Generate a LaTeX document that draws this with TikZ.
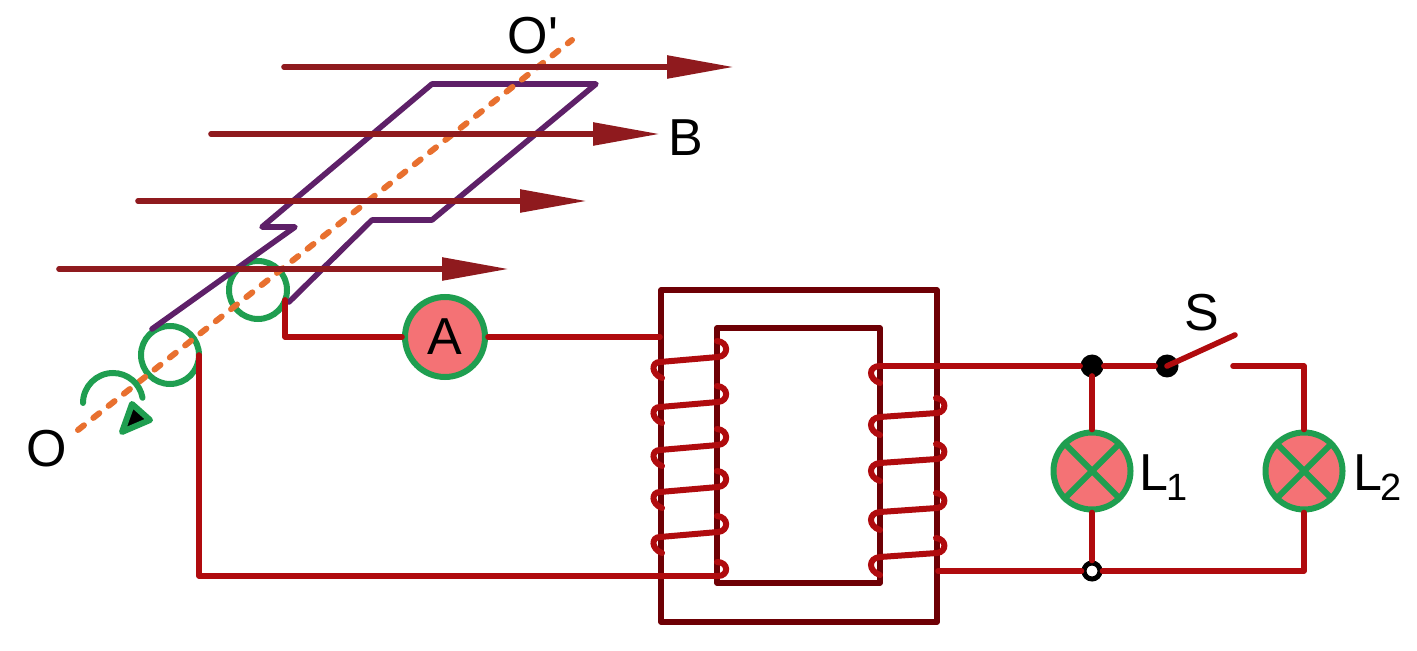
\documentclass[tikz,border=0pt]{standalone}
\usepackage{fontspec}
\setmainfont{Liberation Sans}
\usetikzlibrary{arrows.meta}
\definecolor{fieldred}{HTML}{8F1A1E}
\definecolor{coilpurple}{HTML}{5E2068}
\definecolor{axisorange}{HTML}{E8702F}
\definecolor{ringgreen}{HTML}{1F9E50}
\definecolor{wirered}{HTML}{B00B0E}
\definecolor{coredark}{HTML}{6E0005}
\definecolor{lampfill}{HTML}{F47275}
\tikzset{
  wire/.style={wirered, line width=2.8pt, line join=round, line cap=round},
  coilturn/.style={wirered, line width=3pt, line cap=round},
  core/.style={coredark, line width=2.8pt, line join=round},
  fieldline/.style={fieldred, line width=2.8pt, line cap=round, -{Triangle[length=33.5pt,width=11pt]}},
  ring/.style={circle, draw=ringgreen, line width=3pt, minimum size=29pt, inner sep=0pt, outer sep=0pt},
  lamp/.style={circle, draw=ringgreen, fill=lampfill, line width=3pt, minimum size=38.5pt, inner sep=0pt},
  lbl/.style={font=\fontsize{26}{26}\selectfont, inner sep=0pt},
  dot/.style={circle, fill=black, minimum size=11.5pt, inner sep=0pt},
  opendot/.style={circle, draw=black, fill=white, line width=2.5pt, minimum size=8pt, inner sep=0pt}
}
\newcommand{\lampsub}[1]{\kern-1pt\raisebox{-5pt}{\fontsize{19}{19}\selectfont #1}}
\begin{document}
\begin{tikzpicture}[x=0.5pt,y=-0.5pt]
\useasboundingbox (0,0) rectangle (1417,651);

% slip rings
\node[ring] (ringa) at (170,355) {};
\node[ring] (ringb) at (258,290) {};

% rotating coil
\draw[coilpurple, line width=2.8pt, line join=round, line cap=round] (152,329) -- (295,227) -- (262,227) -- (432,84) -- (596,84) -- (432,220) -- (372,220) -- (289,302);

% axis
\coordinate (axisa) at (78,430);
\coordinate (axisb) at (572,40);
\draw[axisorange, line width=3pt, line cap=round, dash pattern=on 3.8pt off 5.95pt] (axisa) -- (axisb);

% field
\coordinate (fa) at (284,67);
\coordinate (fb) at (734,67);
\coordinate (fc) at (211,134);
\coordinate (fd) at (660,134);
\coordinate (fe) at (138,201);
\coordinate (ff) at (587,201);
\coordinate (fg) at (59,269);
\coordinate (fh) at (509,269);
\draw[fieldline] (fa) -- (fb);
\draw[fieldline] (fc) -- (fd);
\draw[fieldline] (fe) -- (ff);
\draw[fieldline] (fg) -- (fh);

% rotation sense
\draw[ringgreen, line width=3pt, line cap=round] (83,403) arc (180:350:30);
\draw[ringgreen, fill=black, line width=3pt, line join=round] (122,432) -- (132,404) -- (150,420) -- cycle;

% core
\draw[core] (661,290) rectangle (937,622);
\draw[core] (717,328) rectangle (880,583);

% ammeter and lamps
\node[lamp, minimum size=40pt, lbl] (ammeter) at (445,337) {A};
\node[lamp] (lampa) at (1092,471) {};
\node[lamp] (lampb) at (1304,471) {};
\draw[ringgreen, line width=3pt] (lampa.45) -- (lampa.225);
\draw[ringgreen, line width=3pt] (lampa.135) -- (lampa.315);
\draw[ringgreen, line width=3pt] (lampb.45) -- (lampb.225);
\draw[ringgreen, line width=3pt] (lampb.135) -- (lampb.315);

% left circuit
\coordinate (primtop) at (660,337);
\coordinate (primend) at (718,576);
\draw[wire] (ringb.-20) |- (ammeter.west);
\draw[wire] (ammeter.east) -- (primtop);
\draw[wire] (ringa.east) |- (primend);

% primary
\draw[coilturn] (662,378) .. controls (651,374) and (651,362) .. (660,362) -- (718,357) .. controls (729,356) and (729,342) .. (717,341);
\draw[coilturn] (662,423) .. controls (651,419) and (651,407) .. (660,407) -- (718,402) .. controls (729,401) and (729,387) .. (717,386);
\draw[coilturn] (662,466) .. controls (651,462) and (651,450) .. (660,450) -- (718,445) .. controls (729,444) and (729,430) .. (717,429);
\draw[coilturn] (662,508) .. controls (651,504) and (651,492) .. (660,492) -- (718,487) .. controls (729,486) and (729,472) .. (717,471);
\draw[coilturn] (662,553) .. controls (651,549) and (651,537) .. (660,537) -- (718,532) .. controls (729,531) and (729,517) .. (717,516);
\draw[coilturn] (717,562) .. controls (729,562) and (729,576) .. (primend);

% secondary
\coordinate (sectop) at (880,366);
\coordinate (secend) at (938,571);
\draw[coilturn] (880,383) .. controls (868,379) and (868,366) .. (sectop);
\draw[coilturn] (880,435) .. controls (868,431) and (868,418) .. (880,417) -- (937,413) .. controls (947,412) and (947,399) .. (936,398);
\draw[coilturn] (880,481) .. controls (868,477) and (868,464) .. (880,463) -- (937,459) .. controls (947,458) and (947,445) .. (936,444);
\draw[coilturn] (880,530) .. controls (868,526) and (868,513) .. (880,512) -- (937,508) .. controls (947,507) and (947,494) .. (936,493);
\draw[coilturn] (880,575) .. controls (868,571) and (868,558) .. (880,557) -- (937,553) .. controls (947,552) and (947,539) .. (936,538);

% right circuit
\coordinate (swend) at (1235,335);
\coordinate (swin) at (1233,366);
\coordinate (cornerb) at (1304,571);
\coordinate (jointin) at (1092,376);
\node[dot] (joint) at (1092,366) {};
\node[dot] (swdot) at (1167,366) {};
\node[opendot] (jointb) at (1092,571) {};
\draw[wire] (sectop) -- (joint);
\draw[wire] (joint) -- (swdot);
\draw[wire] (swdot.center) -- (swend);
\draw[wire] (swin) -| (lampb.north);
\draw[wire] (jointin) -- (lampa.north);
\draw[wire] (lampa.south) -- (jointb.north);
\draw[wire] (secend) -- (jointb.west);
\draw[wire] (jointb.east) -- (cornerb) -- (lampb.south);

% labels
\node[lbl] (lbo) at (47,449) {O};
\node[lbl] (lboo) at (533,36) {O\textquotesingle};
\node[lbl] (lbb) at (686,138) {B};
\node[lbl] (lbs) at (1202,313) {S};
\node[lbl, anchor=base west] (lbla) at (1139,490) {L\lampsub{1}};
\node[lbl, anchor=base west] (lblb) at (1353,490) {L\lampsub{2}};
\end{tikzpicture}
\end{document}
